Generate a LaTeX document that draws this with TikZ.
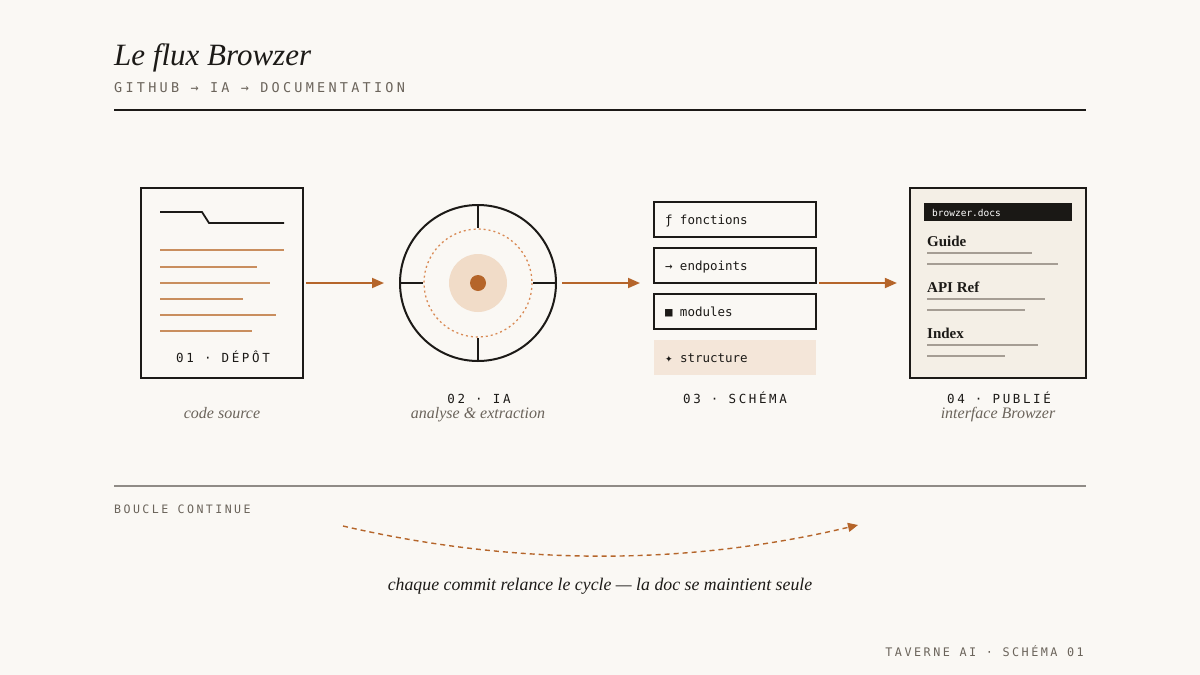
\documentclass[tikz,border=0pt]{standalone}
\usepackage{fontspec}
\setmainfont{Liberation Serif}
\newfontfamily\monof{DejaVu Sans Mono}
\newfontfamily\monosp[LetterSpace=21]{DejaVu Sans Mono}
\newfontfamily\monowide[LetterSpace=24]{DejaVu Sans Mono}
\newfontfamily\symf{DejaVu Sans}
\usetikzlibrary{arrows.meta}
\definecolor{ink}{HTML}{1C1A17}
\definecolor{bg}{HTML}{FAF8F4}
\definecolor{rust}{HTML}{B5652A}
\definecolor{lineor}{HTML}{C98E5E}
\definecolor{dotor}{HTML}{D98A55}
\definecolor{peach}{HTML}{F1DCC8}
\definecolor{structfill}{HTML}{F4E6D9}
\definecolor{paper}{HTML}{F4EFE6}
\definecolor{grayt}{HTML}{6B645B}
\definecolor{grayl}{HTML}{A59D94}
\definecolor{rulegray}{HTML}{8F8B86}
\definecolor{hdrdark}{HTML}{1A1815}
\newcommand{\pfx}[1]{\makebox[15pt][l]{#1}}
\tikzset{
  txt/.style={inner sep=0, anchor=base},
  lab/.style={txt, font=\monosp\fontsize{12.5}{14}\selectfont, text=ink},
  tracked/.style={txt, anchor=base west, font=\monosp\fontsize{11.6}{14}\selectfont, text=grayt},
  captxt/.style={txt, font=\fontsize{16}{19}\selectfont\itshape, text=grayt},
  flow/.style={rust, line width=1.8, -{Triangle[length=12,width=10]}},
  box/.style={draw=ink, line width=2.2, inner sep=0},
  item/.style={draw=ink, line width=2, minimum width=162, minimum height=35, text width=140, inner xsep=11, text height=10, text depth=1, align=left, font=\monof\fontsize{12.5}{14}\selectfont, text=ink},
  docline/.style={lineor, line width=1.8},
  pline/.style={grayl, line width=1.2},
  ptitle/.style={txt, anchor=base west, font=\fontsize{15}{18}\selectfont\bfseries, text=ink},
}
\begin{document}
\begin{tikzpicture}[x=1pt,y=-1pt]
\fill[bg] (0,0) rectangle (1200,675);
\useasboundingbox (0,0) rectangle (1200,675);

% header
\node[txt, anchor=base west, font=\fontsize{31}{36}\selectfont\itshape, text=ink] (title) at (114,65) {Le flux Browzer};
\node[tracked, font=\monowide\fontsize{13.5}{15}\selectfont] (subtitle) at (114,92) {GITHUB → IA → DOCUMENTATION};
\draw[ink, line width=1.2] (114,110) -- (1086,110);

% 01 depot
\node[box, minimum width=162, minimum height=190] (doc) at (222,283) {};
\draw[ink, line width=1.8] (160,212) -- (202,212) -- (209,223) -- (284,223);
\draw[docline] (160,250) -- (284,250);
\draw[docline] (160,267) -- (257,267);
\draw[docline] (160,283) -- (270,283);
\draw[docline] (160,299) -- (243,299);
\draw[docline] (160,315) -- (276,315);
\draw[docline] (160,331) -- (252,331);
\node[lab] (doclab) at (223,362) {01 · DÉPÔT};
\node[captxt] (doccap) at (222,418) {code source};

% 02 IA
\node[circle, draw=ink, line width=2, minimum size=156, inner sep=0] (ia) at (478,283) {};
\draw[ink, line width=1.8] (ia.north) -- ++(0,24);
\draw[ink, line width=1.8] (ia.south) -- ++(0,-24);
\draw[ink, line width=1.8] (ia.west) -- ++(24,0);
\draw[ink, line width=1.8] (ia.east) -- ++(-24,0);
\draw[dotor, line width=1.3, dash pattern=on 2 off 3] (ia.center) circle (54);
\fill[peach] (ia.center) circle (29);
\fill[rust] (ia.center) circle (8);
\node[lab] (ialab) at (479,403) {02 · IA};
\node[captxt] (iacap) at (478,418) {analyse \& extraction};

% 03 schema
\node[item] (s1) at (735,219.5) {\pfx{ƒ}fonctions};
\node[item] (s2) at (735,265.5) {\pfx{→}endpoints};
\node[item] (s3) at (735,311.5) {\pfx{■}modules};
\node[item, draw=none, fill=structfill] (s4) at (735,357.5) {\pfx{\symf\fontsize{9}{12}\selectfont ✦}structure};
\coordinate (stackL) at (654,283);
\coordinate (stackR) at (816,283);
\node[lab] (schlab) at (735,403) {03 · SCHÉMA};

% 04 publie
\node[box, fill=paper, minimum width=176, minimum height=190] (pub) at (998,283) {};
\node[fill=hdrdark, minimum width=148, minimum height=18, inner sep=0] (hdr) at (998,212) {};
\node[txt, anchor=base west, font=\monof\fontsize{9.5}{11}\selectfont, text=white] (hdrtxt) at (932,216) {browzer.docs};
\node[ptitle] (guide) at (927,246) {Guide};
\draw[pline] (927,253) -- (1032,253);
\draw[pline] (927,264) -- (1058,264);
\node[ptitle] (api) at (927,292) {API Ref};
\draw[pline] (927,299) -- (1045,299);
\draw[pline] (927,310) -- (1025,310);
\node[ptitle] (index) at (927,338) {Index};
\draw[pline] (927,345) -- (1038,345);
\draw[pline] (927,356) -- (1005,356);
\node[lab] (publab) at (999,403) {04 · PUBLIÉ};
\node[captxt] (pubcap) at (998,418) {interface Browzer};

% flow arrows
\draw[flow, shorten <=2, shorten >=15] (doc) -- (ia);
\draw[flow, shorten <=5, shorten >=14] (ia) -- (stackL);
\draw[flow, shorten <=3, shorten >=12] (stackR) -- (pub);

% loop
\draw[rulegray, line width=1.5] (114,486) -- (1086,486);
\node[tracked] (boucle) at (114,513) {BOUCLE CONTINUE};
\coordinate (loopA) at (343,526);
\coordinate (loopB) at (858,525);
\draw[rust, line width=1.4, dash pattern=on 5 off 4, -{Triangle[length=10,width=9]}] (loopA) .. controls (515,566) and (686,566) .. (loopB);
\node[txt, font=\fontsize{17.8}{21}\selectfont\itshape, text=ink] (loopcap) at (600,590) {chaque commit relance le cycle — la doc se maintient seule};

% footer
\node[tracked, anchor=base east, font=\monosp\fontsize{11.8}{14}\selectfont] (footer) at (1084,656) {TAVERNE AI · SCHÉMA 01};
\end{tikzpicture}
\end{document}
